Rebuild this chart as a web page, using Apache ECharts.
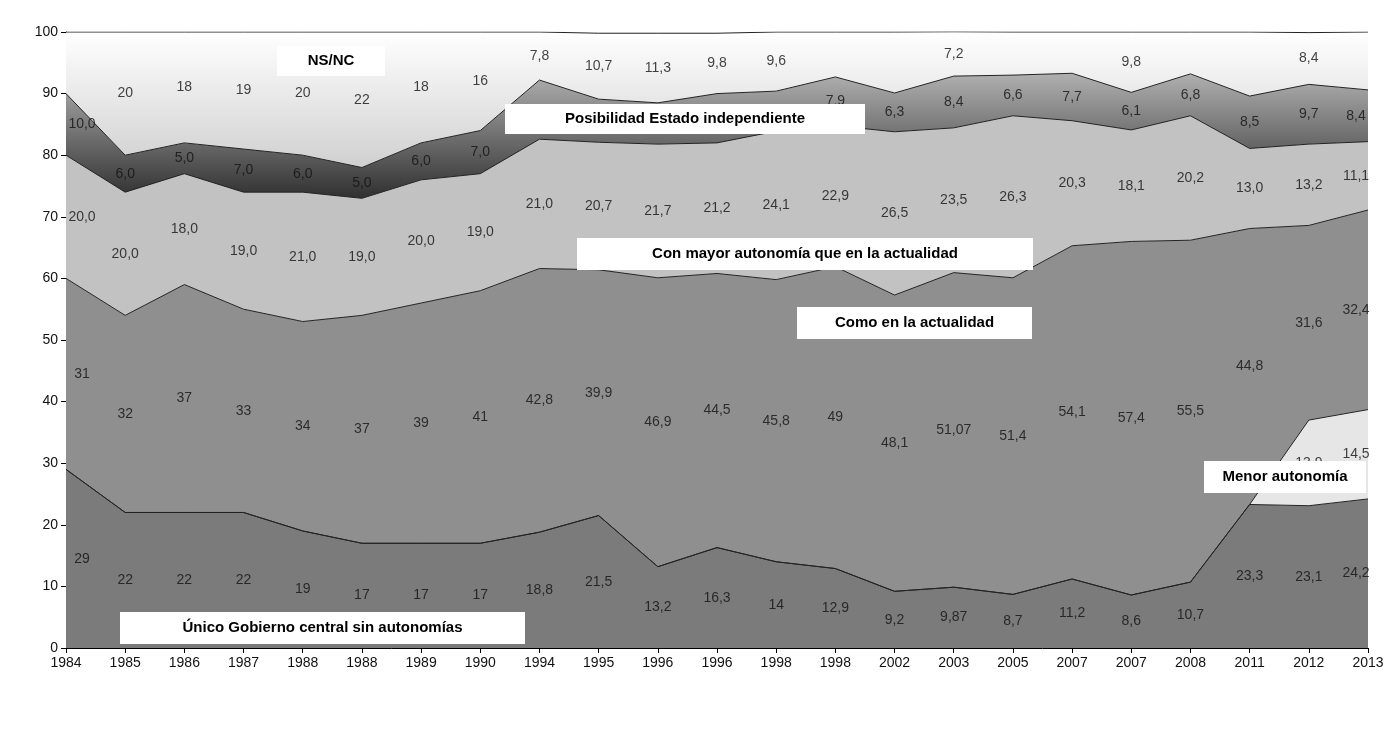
<!DOCTYPE html>
<html><head><meta charset="utf-8">
<script src="https://cdn.jsdelivr.net/npm/echarts@6/dist/echarts.min.js"></script>
<style>html,body{margin:0;background:#fff}#c{width:1395px;height:733px}</style>
</head><body><div id="c"></div>
<script>
// 数据：自下而上的堆叠序列
const years = ['1984','1985','1986','1987','1988','1988','1989','1990','1994','1995','1996','1996','1998','1998','2002','2003','2005','2007','2007','2008','2011','2012','2013'];
const unico = [29,22,22,22,19,17,17,17,18.8,21.5,13.2,16.3,14,12.9,9.2,9.87,8.7,11.2,8.6,10.7,23.3,23.1,24.2];
const menor = [0,0,0,0,0,0,0,0,0,0,0,0,0,0,0,0,0,0,0,0,0,13.9,14.5];
const como = [31,32,37,33,34,37,39,41,42.8,39.9,46.9,44.5,45.8,49,48.1,51.07,51.4,54.1,57.4,55.5,44.8,31.6,32.4];
const mayor = [20,20,18,19,21,19,20,19,21,20.7,21.7,21.2,24.1,22.9,26.5,23.5,26.3,20.3,18.1,20.2,13,13.2,11.1];
const indep = [10,6,5,7,6,5,6,7,9.6,7,6.7,8,6.5,7.9,6.3,8.4,6.6,7.7,6.1,6.8,8.5,9.7,8.4];
const nsnc = [10,20,18,19,20,22,18,16,7.8,10.7,11.3,9.8,9.6,7.3,9.9,7.2,7,6.7,9.8,6.8,10.4,8.4,9.4];
// 标签文字（null 表示原图中未显示）
const lblUnico = ['29','22','22','22','19','17','17','17','18,8','21,5','13,2','16,3','14','12,9','9,2','9,87','8,7','11,2','8,6','10,7','23,3','23,1','24,2'];
const lblMenor = [null,null,null,null,null,null,null,null,null,null,null,null,null,null,null,null,null,null,null,null,null,'13,9','14,5'];
const lblComo = ['31','32','37','33','34','37','39','41','42,8','39,9','46,9','44,5','45,8','49','48,1','51,07','51,4','54,1','57,4','55,5','44,8','31,6','32,4'];
const lblMayor = ['20,0','20,0','18,0','19,0','21,0','19,0','20,0','19,0','21,0','20,7','21,7','21,2','24,1','22,9','26,5','23,5','26,3','20,3','18,1','20,2','13,0','13,2','11,1'];
const lblIndep = ['10,0','6,0','5,0','7,0','6,0','5,0','6,0','7,0',null,null,null,null,null,'7,9','6,3','8,4','6,6','7,7','6,1','6,8','8,5','9,7','8,4'];
const lblNsnc = [null,'20','18','19','20','22','18','16','7,8','10,7','11,3','9,8','9,6',null,null,'7,2',null,null,'9,8',null,null,'8,4',null];

const layers = [
  { name: 'Único', data: unico, lbl: lblUnico, color: '#7b7b7b' },
  { name: 'Menor', data: menor, lbl: lblMenor, color: '#e6e6e6' },
  { name: 'Como', data: como, lbl: lblComo, color: '#8f8f8f' },
  { name: 'Mayor', data: mayor, lbl: lblMayor, color: '#c2c2c2' },
  { name: 'Indep', data: indep, lbl: lblIndep, color: new echarts.graphic.LinearGradient(0,0,0,1,[{offset:0,color:'#b0b0b0'},{offset:1,color:'#303030'}]) },
  { name: 'NSNC', data: nsnc, lbl: lblNsnc, color: new echarts.graphic.LinearGradient(0,0,0,1,[{offset:0,color:'#ffffff'},{offset:1,color:'#d0d0d0'}]) }
];

const series = [];
const cum = years.map(() => 0);
const labelPts = [];
layers.forEach(l => {
  series.push({ name: l.name, type: 'line', stack: 'all', data: l.data, symbol: 'none',
    lineStyle: { color: '#222', width: 1 }, areaStyle: { color: l.color, opacity: 1 } });
  l.data.forEach((v, i) => {
    if (l.lbl[i] != null) {
      const off = i === 0 ? [16, 0] : (i === years.length - 1 ? [-12, 0] : [0, 0]);
      labelPts.push({ value: [i, cum[i] + v / 2], txt: l.lbl[i], label: { offset: off } });
    }
    cum[i] += v;
  });
});
series.push({ type: 'scatter', symbolSize: 0, data: labelPts, z: 5,
  label: { show: true, formatter: p => p.data.txt, color: '#111', fontSize: 14, fontFamily: 'Liberation Sans' } });

// 白底标题框
const box = (x, y, w, h, t) => [
  { type: 'rect', z: 100, shape: { x: x, y: y, width: w, height: h }, style: { fill: '#fff' } },
  { type: 'text', z: 101, x: x + w / 2, y: y + h / 2, style: { text: t, align: 'center', verticalAlign: 'middle', font: 'bold 15px Liberation Sans', fill: '#000' } }
];

const chart = echarts.init(document.getElementById('c'));
chart.setOption({
  animation: false,
  grid: { left: 66, right: 27, top: 32, bottom: 85 },
  xAxis: { type: 'category', data: years, boundaryGap: false,
    axisLine: { lineStyle: { color: '#000' } }, axisTick: { show: true, lineStyle: { color: '#000' } },
    axisLabel: { color: '#111', fontSize: 14, fontFamily: 'Liberation Sans', interval: 0 } },
  yAxis: { type: 'value', min: 0, max: 100, interval: 10, splitLine: { show: false },
    axisLine: { show: true, lineStyle: { color: '#000' } }, axisTick: { show: true, lineStyle: { color: '#000' } },
    axisLabel: { color: '#111', fontSize: 14, fontFamily: 'Liberation Sans' } },
  series: series,
  graphic: [].concat(
    box(277, 46, 108, 30, 'NS/NC'),
    box(505, 104, 360, 30, 'Posibilidad Estado independiente'),
    box(577, 238, 456, 32, 'Con mayor autonomía que en la actualidad'),
    box(797, 307, 235, 32, 'Como en la actualidad'),
    box(1204, 461, 162, 32, 'Menor autonomía'),
    box(120, 612, 405, 32, 'Único Gobierno central sin autonomías')
  )
});
</script></body></html>
